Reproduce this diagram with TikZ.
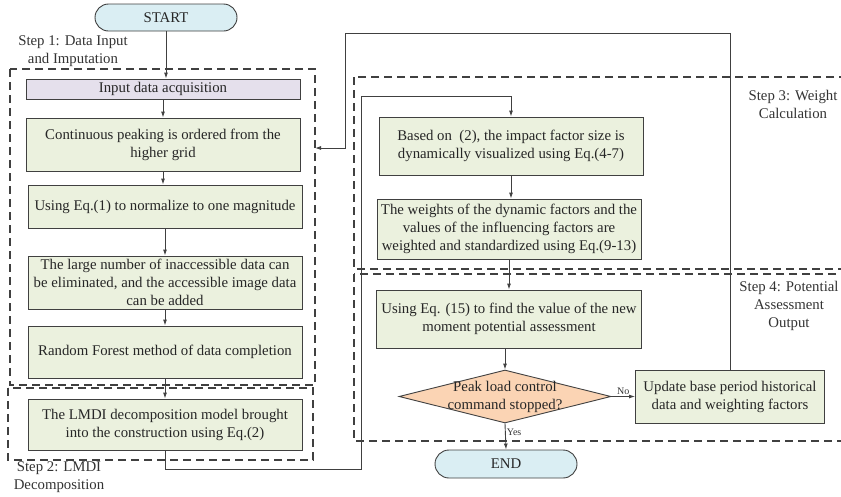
\documentclass[tikz,border=0pt]{standalone}
\usepackage{fontspec}
\setmainfont{Liberation Serif}
\usetikzlibrary{shapes.misc,shapes.geometric,arrows.meta}
\definecolor{boxgreen}{HTML}{EBF1DE}
\definecolor{boxlav}{HTML}{E5E0EC}
\definecolor{boxblue}{HTML}{DAEEF3}
\definecolor{boxorange}{HTML}{FBD4B4}
\definecolor{edge}{HTML}{404040}
\tikzset{
  base/.style={draw=edge, line width=0.9pt, inner sep=0pt, align=center,
    font=\fontsize{14.8}{18}\selectfont, text=black!85},
  gbox/.style={base, fill=boxgreen, minimum width=274pt},
  term/.style={base, rounded rectangle, fill=boxblue, minimum width=142pt, minimum height=27pt},
  decision/.style={base, diamond, aspect=4.2, fill=boxorange, minimum width=212pt, minimum height=53pt, inner sep=-4pt},
  dashbox/.style={draw=edge, line width=1.1pt, dash pattern=on 8pt off 5pt},
  arr/.style={draw=edge, line width=0.9pt, -{Latex[length=6pt,width=4pt]}},
  lbl/.style={align=center, font=\fontsize{14.8}{18}\selectfont, text=black!80},
  small/.style={font=\fontsize{10}{11}\selectfont, text=black!80, inner sep=1pt}
}
\begin{document}
\begin{tikzpicture}[x=1pt,y=-1pt]
\useasboundingbox (0,0) rectangle (841,496);
% dashed step boxes
\draw[dashbox] (10,69) rectangle (315,385);
\draw[dashbox] (8,388) rectangle (313,460);
\draw[dashbox] (354,77) rectangle (870,269);
\draw[dashbox] (354,274) rectangle (870,441);
% step labels
\node[lbl] (s1) at (73,51) {Step 1: Data Input\\and Imputation};
\node[lbl] (s2) at (59,477) {Step 2: LMDI\\Decomposition};
\node[lbl] (s3) at (793,104) {Step 3: Weight\\Calculation};
\node[lbl] (s4) at (789,306) {Step 4: Potential\\Assessment\\Output};
% nodes
\node[term] (start) at (166,17.5) {START};
\node[gbox, fill=boxlav, minimum height=20pt] (input) at (163,89) {Input data acquisition};
\node[gbox, minimum height=53pt] (cont) at (163,144.5) {Continuous peaking is ordered from the\\higher grid};
\node[gbox, minimum height=43pt] (norm) at (165,206.5) {Using Eq.(1) to normalize to one magnitude};
\node[gbox, minimum height=53pt] (large) at (165,282.5) {The large number of inaccessible data can\\be eliminated, and the accessible image data\\can be added};
\node[gbox, minimum height=52pt] (rf) at (165,352) {Random Forest method of data completion};
\node[gbox, minimum height=51pt] (lmdi) at (165,424.5) {The LMDI decomposition model brought\\into the construction using Eq.(2)};
\node[gbox, minimum width=264pt, minimum height=58pt] (based) at (511,146) {Based on~ (2), the impact factor size is\\dynamically visualized using Eq.(4-7)};
\node[gbox, minimum width=264pt, minimum height=60pt] (weights) at (509,229) {The weights of the dynamic factors and the\\values of the influencing factors are\\weighted and standardized using Eq.(9-13)};
\node[gbox, minimum width=265pt, minimum height=58pt] (useq) at (509,319) {Using Eq. (15) to find the value of the new\\moment potential assessment};
\node[decision] (dec) at (505,396.5) {Peak load control\\command stopped?};
\node[gbox, minimum width=189pt, minimum height=53pt] (update) at (730,396.5) {Update base period historical\\data and weighting factors};
\node[term, minimum height=28pt] (end) at (506,464) {END};
\coordinate (back) at (315,148);
% connectors
\draw[arr] (start.south) -- (start.south |- input.north);
\draw[arr] (input.south) -- (input.south |- cont.north);
\draw[arr] (cont.south) -- (cont.south |- norm.north);
\draw[arr] (norm.south) -- (norm.south |- large.north);
\draw[arr] (large.south) -- (large.south |- rf.north);
\draw[arr] (rf.south) -- (rf.south |- lmdi.north);
\draw[arr] (lmdi.south) |- (361,469) -- (361,96) -| (based.north);
\draw[arr] (based.south) -- (based.south |- weights.north);
\draw[arr] (weights.south) -- (weights.south |- useq.north);
\draw[arr] (useq.south -| dec.north) -- (dec.north);
\draw[arr] (dec.east) -- node[small, above] {No} (update.west);
\draw[arr] (dec.south) -- node[small, right, pos=0.35] {Yes} (end.north);
\draw[arr] (update.north) |- (345,33) -- (345,148) -- (back);
\end{tikzpicture}
\end{document}
